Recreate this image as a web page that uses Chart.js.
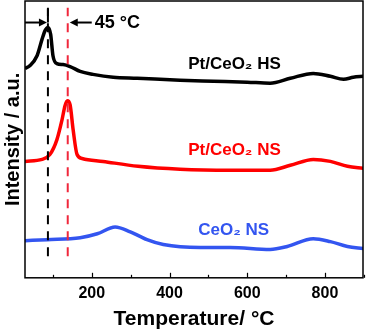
<!DOCTYPE html>
<html>
<head>
<meta charset="utf-8">
<script src="https://cdn.jsdelivr.net/npm/chart.js@4.4.1/dist/chart.umd.min.js"></script>
<style>
  html, body { margin: 0; padding: 0; background: #fff; }
  #wrap { width: 366px; height: 334px; position: relative; }
</style>
</head>
<body>
<div id="wrap"><canvas id="tprChart"></canvas></div>
<script>
// temperature (°C) / intensity (a.u., offset traces)
const hsTemp = [28, 41, 59, 72, 80, 87, 94, 100, 110, 126, 144, 170, 203, 255, 317, 427, 513, 600, 659, 711, 770, 814, 848, 873, 899];
const hsVal  = [214, 217, 227, 244, 253, 256, 249, 227, 219, 218, 216, 211, 208, 205, 204, 202, 201, 200, 199, 204, 209, 206, 203, 205, 206];

const nsTemp = [28, 72, 92, 110, 123, 131, 137, 144, 152, 162, 175, 229, 319, 427, 556, 659, 711, 770, 814, 858, 899];
const nsVal  = [119, 121, 126, 141, 161, 176, 181, 177, 151, 126, 122, 119, 114, 111, 110, 110, 115, 121, 119, 114, 112];

const ceTemp = [28, 85, 170, 214, 260, 299, 342, 384, 479, 556, 659, 703, 770, 814, 858, 899];
const ceVal  = [38, 39, 41, 45, 52, 47, 39, 34, 31, 31, 29, 32, 40, 37, 32, 30];

const hsPeak = 87;
const nsPeak = 138;
const markerRange = [22, 276];

const xTicks = [100, 200, 300, 400, 500, 600, 700, 800, 900];

const labels = [
  { text: "Pt/CeO\u2082 HS", x: 448, y: 218, color: "#000" },
  { text: "Pt/CeO\u2082 NS", x: 448, y: 130, color: "#ff0000" },
  { text: "CeO\u2082 NS", x: 474, y: 49, color: "#3355f0" }
];

const FONT = "'Liberation Sans', Arial, sans-serif";

function pts(xs, ys) {
  return xs.map((x, i) => ({ x: x, y: ys[i] }));
}

const decorPlugin = {
  id: "decor",
  afterDraw(chart) {
    const ctx = chart.ctx;
    const area = chart.chartArea;
    const xs = chart.scales.x;
    const ys = chart.scales.y;
    ctx.save();

    // frame
    ctx.strokeStyle = "#000";
    ctx.lineWidth = 1.5;
    ctx.strokeRect(area.left, area.top, area.right - area.left, area.bottom - area.top);

    // inward ticks
    ctx.lineWidth = 1.2;
    xTicks.forEach((t) => {
      const px = Math.round(xs.getPixelForValue(t)) + 0.5;
      const len = t % 200 === 0 ? 5 : 3;
      ctx.beginPath();
      ctx.moveTo(px, area.bottom);
      ctx.lineTo(px, area.bottom - len);
      ctx.stroke();
    });

    // 45 °C arrows
    const ay = ys.getPixelForValue(261);
    const bx = xs.getPixelForValue(hsPeak);
    const rx = xs.getPixelForValue(nsPeak);
    ctx.fillStyle = "#000";
    ctx.lineWidth = 2;
    ctx.beginPath();
    ctx.moveTo(area.left, ay);
    ctx.lineTo(bx - 6, ay);
    ctx.stroke();
    ctx.beginPath();
    ctx.moveTo(bx - 1, ay);
    ctx.lineTo(bx - 9, ay - 4);
    ctx.lineTo(bx - 9, ay + 4);
    ctx.closePath();
    ctx.fill();
    ctx.beginPath();
    ctx.moveTo(bx, ys.getPixelForValue(275));
    ctx.lineTo(bx, ay);
    ctx.stroke();

    ctx.beginPath();
    ctx.moveTo(rx + 8, ay);
    ctx.lineTo(rx + 24, ay);
    ctx.stroke();
    ctx.beginPath();
    ctx.moveTo(rx + 2, ay);
    ctx.lineTo(rx + 10, ay - 4);
    ctx.lineTo(rx + 10, ay + 4);
    ctx.closePath();
    ctx.fill();

    ctx.font = "bold 18px " + FONT;
    ctx.textBaseline = "middle";
    ctx.textAlign = "left";
    ctx.fillText("45 \u00B0C", rx + 27, ay + 1);

    // trace labels
    ctx.font = "bold 17px " + FONT;
    labels.forEach((l) => {
      ctx.fillStyle = l.color;
      ctx.fillText(l.text, xs.getPixelForValue(l.x), ys.getPixelForValue(l.y));
    });
    ctx.restore();
  }
};

new Chart(document.getElementById("tprChart"), {
  type: "line",
  data: {
    datasets: [
      {
        label: "hs marker",
        data: pts([hsPeak, hsPeak], markerRange),
        borderColor: "#000",
        borderWidth: 2,
        borderDash: [9, 7],
        pointRadius: 0
      },
      {
        label: "ns marker",
        data: pts([nsPeak, nsPeak], markerRange),
        borderColor: "#f0283c",
        borderWidth: 2,
        borderDash: [9, 7],
        pointRadius: 0
      },
      {
        label: "Pt/CeO2 HS",
        data: pts(hsTemp, hsVal),
        borderColor: "#000",
        borderWidth: 3.5,
        pointRadius: 0,
        cubicInterpolationMode: "monotone"
      },
      {
        label: "Pt/CeO2 NS",
        data: pts(nsTemp, nsVal),
        borderColor: "#ff0000",
        borderWidth: 3.5,
        pointRadius: 0,
        cubicInterpolationMode: "monotone"
      },
      {
        label: "CeO2 NS",
        data: pts(ceTemp, ceVal),
        borderColor: "#3355f0",
        borderWidth: 3.5,
        pointRadius: 0,
        cubicInterpolationMode: "monotone"
      }
    ]
  },
  options: {
    responsive: true,
    maintainAspectRatio: false,
    animation: false,
    layout: { padding: { left: 1, right: 3, top: 1, bottom: 4 } },
    plugins: {
      legend: { display: false },
      tooltip: { enabled: false }
    },
    scales: {
      x: {
        type: "linear",
        min: 28,
        max: 898,
        afterBuildTicks: (scale) => {
          scale.ticks = xTicks.map((v) => ({ value: v }));
        },
        afterFit: (scale) => {
          scale.paddingRight = 0;
          scale.paddingLeft = 0;
        },
        grid: { display: false, drawTicks: false },
        border: { display: false },
        ticks: {
          padding: 6,
          color: "#000",
          font: { family: FONT, size: 16, weight: "bold" },
          maxRotation: 0,
          callback: (v) => (v % 200 === 0 && v < 900 ? String(v) : "")
        },
        title: {
          display: true,
          text: "Temperature/ \u00B0C",
          color: "#000",
          padding: { top: 0, bottom: 0 },
          font: { family: FONT, size: 21, weight: "bold", lineHeight: 1 }
        }
      },
      y: {
        min: 0,
        max: 283,
        grid: { display: false, drawTicks: false },
        border: { display: false },
        ticks: { display: false },
        title: {
          display: true,
          text: "Intensity / a.u.",
          color: "#000",
          padding: { top: 0, bottom: 0 },
          font: { family: FONT, size: 20, weight: "bold", lineHeight: 1.2 }
        }
      }
    }
  },
  plugins: [decorPlugin]
});
</script>
</body>
</html>
